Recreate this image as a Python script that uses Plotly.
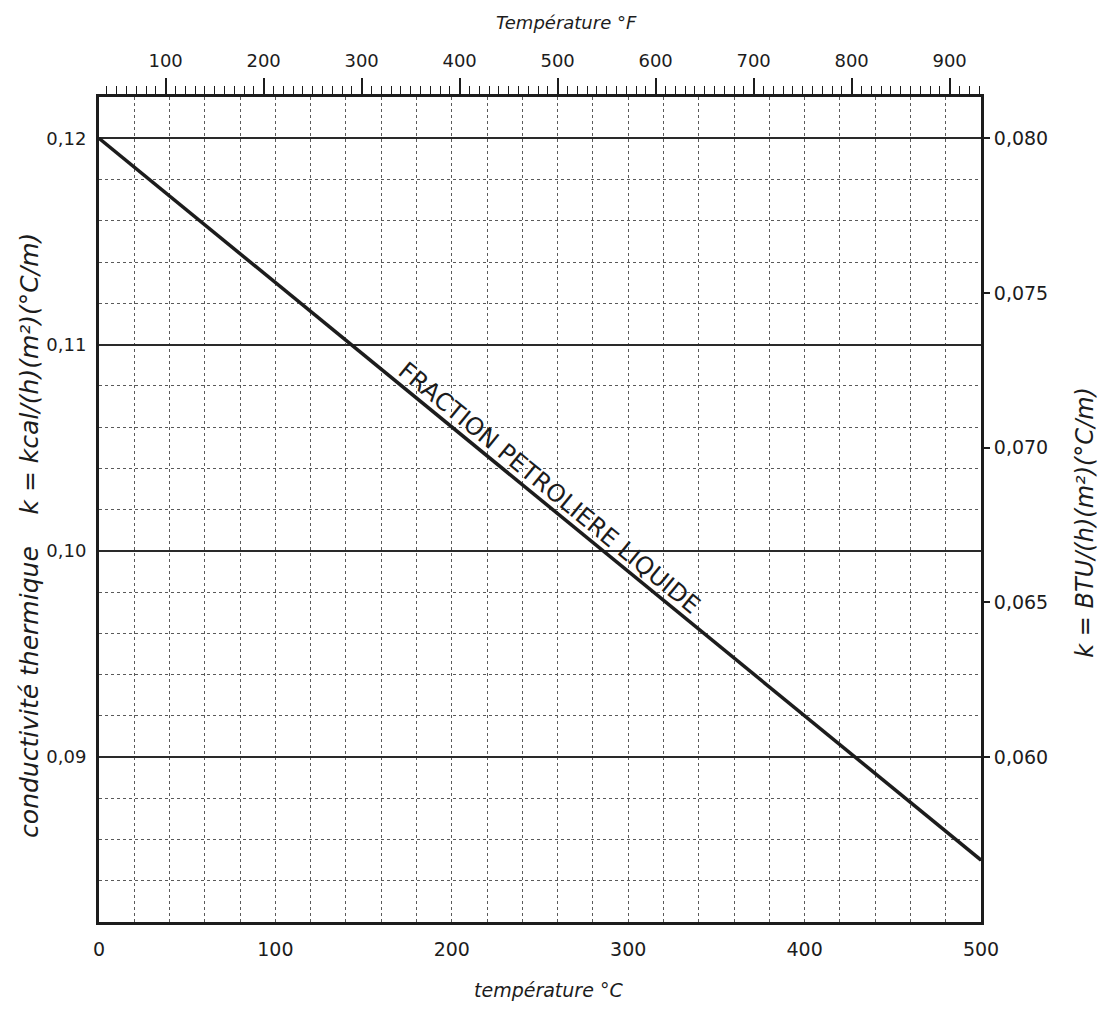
import numpy as np
import plotly.graph_objects as go

# ---- data ----
temp_c = [0, 500]                 # température °C
k_kcal = [0.1200, 0.0850]         # kcal/(h)(m²)(°C/m)

x_range_c = [0, 500]
y_range_kcal = [0.082, 0.122]
btu_factor = 2 / 3                # right scale relation used by the chart

c_ticks = [0, 100, 200, 300, 400, 500]
f_ticks = [100, 200, 300, 400, 500, 600, 700, 800, 900]
kcal_ticks = [0.09, 0.10, 0.11, 0.12]
btu_ticks = [0.060, 0.065, 0.070, 0.075, 0.080]

curve_label = "FRACTION PETROLIERE LIQUIDE"
label_at_c = 253

# derived
f_range = [c * 1.8 + 32 for c in x_range_c]
y2_range = [v * btu_factor for v in y_range_kcal]
temp_f = [c * 1.8 + 32 for c in temp_c]
k_btu = [v * btu_factor for v in k_kcal]

INK = "#1c1c1c"
GRID = "#5a5a5a"
FONT = "DejaVu Sans"

fig = go.Figure()
fig.add_trace(go.Scatter(x=temp_c, y=k_kcal, mode="lines",
                         line=dict(color=INK, width=3.5),
                         showlegend=False, hoverinfo="skip"))
# helper trace so the °F / BTU axes are drawn
fig.add_trace(go.Scatter(x=temp_f, y=k_btu, xaxis="x2", yaxis="y2",
                         mode="lines", line=dict(width=0, color="rgba(0,0,0,0)"),
                         showlegend=False, hoverinfo="skip"))

fig.update_layout(
    width=1107, height=1012,
    margin=dict(l=99, r=126, t=97, b=90),
    paper_bgcolor="white", plot_bgcolor="white",
    separators=",.",
    font=dict(family=FONT, size=19, color=INK),
    xaxis=dict(range=x_range_c, tickvals=c_ticks, ticks="",
               ticklabelstandoff=8,
               showline=True, linecolor=INK, linewidth=3, mirror=True,
               showgrid=True, gridcolor=GRID, gridwidth=1, griddash="dot",
               minor=dict(dtick=20, tick0=0, showgrid=True, gridcolor=GRID,
                          gridwidth=1, griddash="dot"),
               zeroline=False, tickfont=dict(size=19)),
    yaxis=dict(range=y_range_kcal, tickvals=kcal_ticks, tickformat=".2f",
               ticks="", ticklabelstandoff=6,
               showline=True, linecolor=INK, linewidth=3, mirror=True,
               showgrid=True, gridcolor="#2a2a2a", gridwidth=2,
               minor=dict(dtick=0.002, tick0=0, showgrid=True, gridcolor=GRID,
                          gridwidth=1, griddash="dot"),
               zeroline=False, tickfont=dict(size=18)),
    xaxis2=dict(range=f_range, overlaying="x", side="top", anchor="y",
                tickvals=f_ticks, ticks="outside", ticklen=16, tickwidth=1.5,
                tickcolor=INK, ticklabelstandoff=4,
                minor=dict(dtick=10, tick0=0, ticks="outside", ticklen=8,
                           tickwidth=1, tickcolor=INK, showgrid=False),
                showgrid=False, showline=True, linecolor=INK, linewidth=3,
                zeroline=False, tickfont=dict(size=18)),
    yaxis2=dict(range=y2_range, overlaying="y", side="right", anchor="x",
                tickvals=btu_ticks, tickformat=".3f", ticks="outside",
                ticklen=8, tickwidth=1.5, tickcolor=INK,
                showgrid=False, showline=False, zeroline=False,
                tickfont=dict(size=19)),
)

label_y = float(np.interp(label_at_c, temp_c, k_kcal))
fig.add_annotation(x=label_at_c, y=label_y, xref="x", yref="y",
                   text=curve_label, showarrow=False, textangle=39.3,
                   yshift=16, xshift=4,
                   font=dict(family=FONT, size=24, color=INK))

# axis titles
fig.add_annotation(xref="paper", yref="paper", x=0.53, y=1.0, yshift=75,
                   xanchor="center", yanchor="middle",
                   text="Température °F", showarrow=False,
                   font=dict(family=FONT, size=18, style="italic"))
fig.add_annotation(xref="paper", yref="paper", x=0.51, y=0.0, yshift=-68,
                   xanchor="center", yanchor="middle",
                   text="température °C", showarrow=False,
                   font=dict(family=FONT, size=19, style="italic"))
fig.add_annotation(xref="paper", yref="paper", x=0.0, xshift=-69, y=0.468,
                   xanchor="center", yanchor="middle",
                   text="conductivité thermique&nbsp;&nbsp;&nbsp; k = kcal/(h)(m²)(°C/m)",
                   showarrow=False, textangle=-90,
                   font=dict(family=FONT, size=25, style="italic"))
fig.add_annotation(xref="paper", yref="paper", x=1.0, xshift=104, y=0.484,
                   xanchor="center", yanchor="middle",
                   text="k = BTU/(h)(m²)(°C/m)",
                   showarrow=False, textangle=-90,
                   font=dict(family=FONT, size=24, style="italic"))

fig.write_html("out.html", config={"displayModeBar": False},
               post_script="document.body.style.margin='0';")
